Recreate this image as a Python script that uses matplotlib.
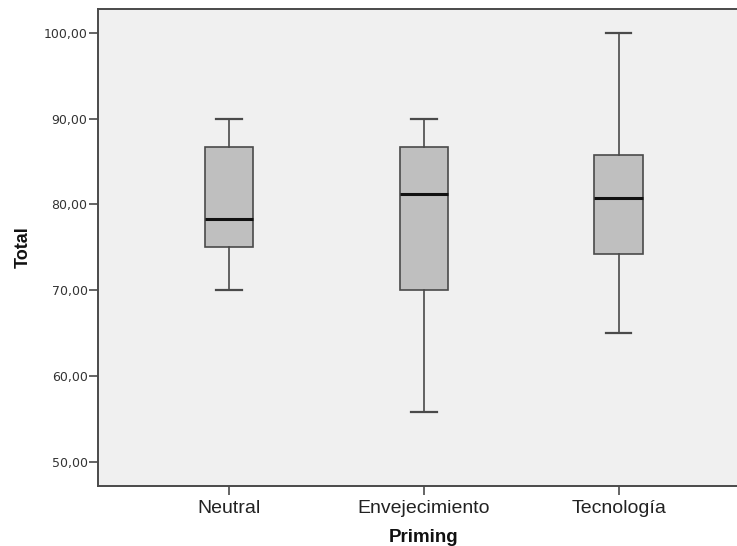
import matplotlib
matplotlib.use("Agg")
import matplotlib.pyplot as plt

# Boxplot summary
groups = ["Neutral", "Envejecimiento", "Tecnología"]
whisker_low = [70.0, 55.8, 65.0]
q1 = [75.0, 70.0, 74.2]
median = [78.33, 81.25, 80.8]
q3 = [86.67, 86.67, 85.8]
whisker_high = [90.0, 90.0, 100.0]
y_ticks = [50, 60, 70, 80, 90, 100]

stats = []
for i, g in enumerate(groups):
    stats.append({
        "label": g,
        "whislo": whisker_low[i],
        "q1": q1[i],
        "med": median[i],
        "q3": q3[i],
        "whishi": whisker_high[i],
        "fliers": [],
    })

fig = plt.figure(figsize=(7.37, 5.46), dpi=100)
ax = fig.add_axes([98 / 737, 60.3 / 546, 651.5 / 737, 476.7 / 546])
ax.set_facecolor("#F0F0F0")

edge = "#4A4A4A"
ax.bxp(stats, positions=[1, 2, 3], widths=0.25, patch_artist=True,
       showfliers=False, capwidths=0.13,
       boxprops=dict(facecolor="#BFBFBF", edgecolor=edge, linewidth=1.2),
       medianprops=dict(color="#111111", linewidth=2.2),
       whiskerprops=dict(color=edge, linewidth=1.2),
       capprops=dict(color=edge, linewidth=1.6))

ax.set_xlim(0.327, 3.672)
ax.set_ylim(47.18, 102.8)
ax.set_yticks(y_ticks)
ax.set_yticklabels([f"{v:.2f}".replace(".", ",") for v in y_ticks],
                   fontsize=9, color="#333333", family="DejaVu Sans")
ax.set_xticks([1, 2, 3])
ax.set_xticklabels(groups, fontsize=14, color="#222222", family="Liberation Sans")

ax.tick_params(axis="y", length=6.5, width=1.2, color=edge, pad=1)
ax.tick_params(axis="x", length=6.5, width=1.2, color=edge, pad=4)
for s in ax.spines.values():
    s.set_color(edge)
    s.set_linewidth(1.4)

ax.set_ylabel("Total", fontsize=13, fontweight="bold", family="Liberation Sans",
              color="#111111", labelpad=30)
ax.set_xlabel("Priming", fontsize=13.5, fontweight="bold", family="Liberation Sans",
              color="#111111", labelpad=6)
ax.yaxis.set_label_coords(-(98 - 23.5) / 651.5, 0.5)
ax.xaxis.set_label_coords((423.5 - 98) / 651.5, -(537 - 485.7) / 476.7)
ax.xaxis.label.set_va("center")
ax.yaxis.label.set_va("center")

fig.savefig("out.png", dpi=100)
